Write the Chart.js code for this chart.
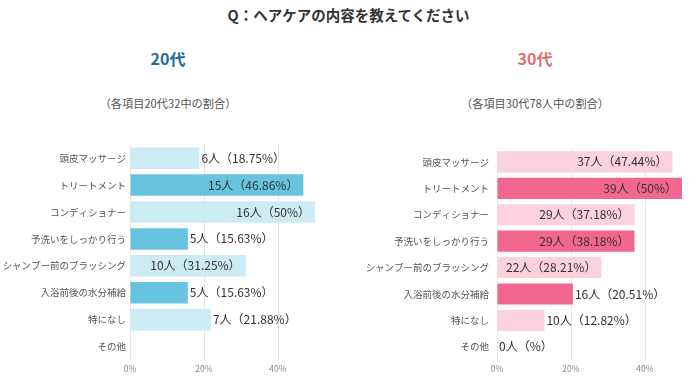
<!DOCTYPE html>
<html lang="ja">
<head>
<meta charset="utf-8">
<script src="https://cdn.jsdelivr.net/npm/chart.js@4.4.1/dist/chart.umd.min.js"></script>
<style>
  html, body { margin: 0; padding: 0; background: #fff; }
  body { width: 697px; height: 385px; position: relative; overflow: hidden;
         font-family: "Noto Sans CJK JP", "Noto Sans", sans-serif; }
  .txt { position: absolute; text-align: center; white-space: nowrap; }
  .main { left: 0; width: 697px; top: 5px; line-height: 20px; font-size: 14.5px; font-weight: 700; color: #333; }
  .age { top: 48px; line-height: 20px; font-size: 16px; font-weight: 700; width: 200px; }
  .note { top: 95px; line-height: 16px; font-size: 11.2px; color: #555; width: 240px; }
  .chart-box { position: absolute; top: 135px; width: 330px; height: 247px; }
</style>
</head>
<body>
<div class="txt main">Q：ヘアケアの内容を教えてください</div>
<div class="txt age" style="left:68px;color:#1f6b99;">20代</div>
<div class="txt age" style="left:435px;color:#df6f6d;">30代</div>
<div class="txt note" style="left:48px;">（各項目20代32中の割合）</div>
<div class="txt note" style="left:415px;">（各項目30代78人中の割合）</div>
<div class="chart-box" style="left:0;"><canvas id="c20"></canvas></div>
<div class="chart-box" style="left:367px;"><canvas id="c30"></canvas></div>
<script>
const categories = [
  "頭皮マッサージ", "トリートメント", "コンディショナー", "予洗いをしっかり行う",
  "シャンプー前のブラッシング", "入浴前後の水分補給", "特になし", "その他"
];
const tickLabels = ["0%", "20%", "40%"];

const pct20 = [18.75, 46.86, 50, 15.63, 31.25, 15.63, 21.88, 0];
const count20 = [6, 15, 16, 5, 10, 5, 7, null];
const pctText20 = ["18.75", "46.86", "50", "15.63", "31.25", "15.63", "21.88", null];

// bar for 予洗い is drawn at 29/78 in the original, the label reads 38.18
const pct30 = [47.44, 50, 37.18, 37.18, 28.21, 20.51, 12.82, 0];
const count30 = [37, 39, 29, 29, 22, 16, 10, 0];
const pctText30 = ["47.44", "50", "37.18", "38.18", "28.21", "20.51", "12.82", ""];

Chart.defaults.font.family = "'Noto Sans CJK JP', 'Noto Sans', sans-serif";

// value labels: inside the bar end if they fit, otherwise just after it
const barLabels = {
  id: "barLabels",
  afterDatasetsDraw(chart, args, opts) {
    const ctx = chart.ctx;
    const meta = chart.getDatasetMeta(0);
    ctx.save();
    ctx.font = "12px 'Noto Sans CJK JP', sans-serif";
    ctx.fillStyle = "#333";
    ctx.textBaseline = "middle";
    meta.data.forEach((bar, i) => {
      const c = opts.counts[i];
      if (c === null || c === undefined) return;
      const txt = c + "人（" + opts.texts[i] + "%）";
      const w = ctx.measureText(txt).width;
      const len = bar.x - bar.base;
      if (w + 10 < len) {
        ctx.textAlign = "right";
        ctx.fillText(txt, bar.x - 5, bar.y);
      } else {
        ctx.textAlign = "left";
        ctx.fillText(txt, bar.x + 2, bar.y);
      }
    });
    ctx.restore();
  }
};

function makeChart(id, values, counts, texts, light, dark, gridColor, labelPad) {
  const colors = values.map((v, i) => (i % 2 === 1 ? dark : light));
  return new Chart(document.getElementById(id), {
    type: "bar",
    data: {
      labels: categories,
      datasets: [{
        data: values,
        backgroundColor: colors,
        borderWidth: 0,
        barPercentage: 0.8,
        categoryPercentage: 1
      }]
    },
    options: {
      indexAxis: "y",
      responsive: true,
      maintainAspectRatio: false,
      animation: false,
      layout: { padding: { top: 8, right: 15, left: 0, bottom: 0 } },
      plugins: {
        legend: { display: false },
        tooltip: { enabled: false },
        barLabels: { counts, texts }
      },
      scales: {
        x: {
          min: 0,
          max: 50,
          afterBuildTicks: (scale) => {
            scale.ticks = tickLabels.map((t) => ({ value: parseFloat(t) }));
          },
          afterFit: (scale) => { scale.height = 22; },
          border: { display: false },
          grid: { color: gridColor, drawTicks: false, lineWidth: 1 },
          ticks: {
            color: "#888",
            font: { size: 8.5 },
            padding: 4,
            callback: (v) => v + "%"
          }
        },
        y: {
          afterFit: (scale) => { scale.width = 130; },
          border: { display: false },
          grid: { display: false, drawTicks: false },
          ticks: { color: "#555", font: { size: 9.5 }, padding: labelPad }
        }
      }
    },
    plugins: [barLabels]
  });
}

makeChart("c20", pct20, count20, pctText20, "#cdebf4", "#67c3e0", "#e3e6e8", 4);
makeChart("c30", pct30, count30, pctText30, "#fbd1dd", "#f2678d", "#f3e1e6", 8);
</script>
</body>
</html>
